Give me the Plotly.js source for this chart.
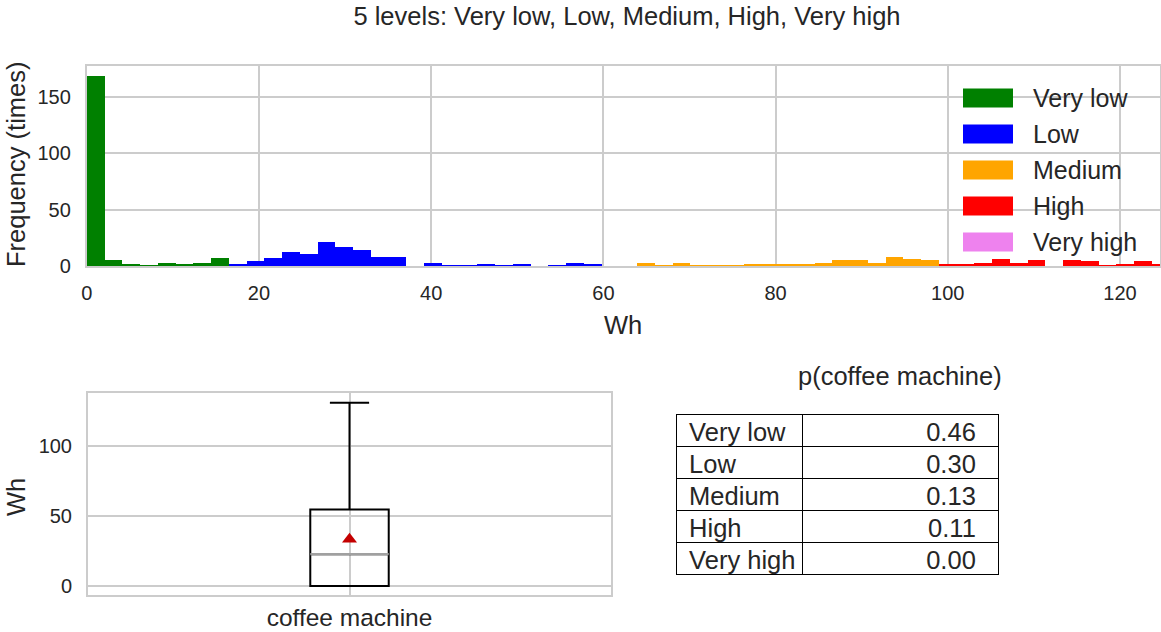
<!DOCTYPE html>
<html>
<head>
<meta charset="utf-8">
<script src="https://cdn.plot.ly/plotly-3.0.1.min.js"></script>
<style>html,body{margin:0;padding:0;background:#fff;}#chart{width:1161px;height:632px;}</style>
</head>
<body>
<div id="chart"></div>
<script>
// ---------------- data ----------------
const levels = ['Very low', 'Low', 'Medium', 'High', 'Very high'];
const binWidth = 2.062;                 // Wh per histogram bin
const levelStartBin = [0, 8, 31, 48, 61];
const veryLowCounts = [169, 5, 2, 1, 3, 2, 3, 7];
const lowCounts = [2, 4, 7, 12, 11, 21, 17, 14, 8, 8, 0, 3, 1, 1, 2, 1, 2, 0, 1, 3, 2, 0, 0];
const mediumCounts = [3, 1, 3, 1, 1, 1, 2, 2, 2, 2, 3, 5, 5, 3, 8, 6, 5];
const highCounts = [2, 2, 3, 6, 3, 5, 0, 5, 4, 1, 2, 4, 2];
const veryHighCounts = [];
const boxCategory = ['coffee machine'];
const boxMin = [0], boxQ1 = [0], boxMedian = [22.6], boxQ3 = [54.4], boxMax = [130.5], boxMean = [33.3];
const tableLabels = ['Very low', 'Low', 'Medium', 'High', 'Very high'];
const tableProbs = ['0.46', '0.30', '0.13', '0.11', '0.00'];
const histXTicks = [0, 20, 40, 60, 80, 100, 120];
const histYTicks = [0, 50, 100, 150];
const boxYTicks = [0, 50, 100];

// ---------------- style ----------------
const levelColors = ['#008000', '#0000ff', '#ffa500', '#ff0000', '#ee82ee'];
const FONT = 'Liberation Sans, Arial, sans-serif';
const TXT = '#262626';
const GRID = '#cccccc';
const BIG = 25.5;
const W = 1161, H = 632;
const px = v => v / W;
const py = v => 1 - v / H;

const allCounts = [veryLowCounts, lowCounts, mediumCounts, highCounts, veryHighCounts];
const traces = [];
allCounts.forEach((cnts, li) => {
  const xs = cnts.map((c, i) => (levelStartBin[li] + i + 0.5) * binWidth);
  traces.push({
    type: 'bar', x: xs, y: cnts, width: binWidth, name: levels[li],
    marker: {color: levelColors[li], line: {width: 0}},
    xaxis: 'x', yaxis: 'y', showlegend: false, hoverinfo: 'x+y'
  });
});

traces.push({
  type: 'box', x: boxCategory, q1: boxQ1, median: boxMedian, q3: boxQ3,
  lowerfence: boxMin, upperfence: boxMax, boxpoints: false, width: 0.15,
  whiskerwidth: 0.5, line: {color: '#000000', width: 2}, fillcolor: 'rgba(255,255,255,0)',
  xaxis: 'x2', yaxis: 'y2', showlegend: false
});
traces.push({
  type: 'scatter', mode: 'markers', x: boxCategory, y: boxMean,
  marker: {symbol: 'triangle-up', size: 13, color: '#c40000'},
  xaxis: 'x2', yaxis: 'y2', showlegend: false
});

const pad = '\u00a0\u00a0';
const lpad = '\u2009';
const cellLabel = s => lpad + s.replace(/ /g, '\u00a0');
traces.push({
  type: 'table',
  domain: {x: [px(676), px(998)], y: [py(590), py(414)]},
  columnwidth: [126, 196],
  header: {
    values: [cellLabel(tableLabels[0]), tableProbs[0] + pad],
    align: ['left', 'right'], height: 32,
    line: {color: '#000', width: 1}, fill: {color: '#fff'},
    font: {family: FONT, size: BIG, color: TXT}
  },
  cells: {
    values: [tableLabels.slice(1).map(cellLabel), tableProbs.slice(1).map(v => v + pad)],
    align: ['left', 'right'], height: 32,
    line: {color: '#000', width: 1}, fill: {color: '#fff'},
    font: {family: FONT, size: BIG, color: TXT}
  }
});

const axisCommon = {
  showline: true, mirror: true, linecolor: GRID, linewidth: 2,
  showgrid: true, gridcolor: GRID, gridwidth: 2, zeroline: false,
  ticks: 'outside', tickcolor: 'rgba(0,0,0,0)',
  tickfont: {family: FONT, size: 20, color: TXT}, fixedrange: true
};

const shapes = [];
const annotations = [];
levels.forEach((lv, i) => {
  const c = 98 + 36 * i;
  shapes.push({type: 'rect', xref: 'paper', yref: 'paper', x0: px(963), x1: px(1013),
    y0: py(c + 9.5), y1: py(c - 9.5), fillcolor: levelColors[i], line: {width: 0}, layer: 'above'});
  annotations.push({xref: 'paper', yref: 'paper', x: px(1031), y: py(c), xanchor: 'left', yanchor: 'middle',
    text: lv, showarrow: false, font: {family: FONT, size: 25, color: TXT}});
});
shapes.push({type: 'line', xref: 'x2', yref: 'y2', x0: -0.075, x1: 0.075,
  y0: boxMedian[0], y1: boxMedian[0], line: {color: '#a0a0a0', width: 2.2}, layer: 'above'});

annotations.push({xref: 'paper', yref: 'paper', x: px(16), y: py(165), text: 'Frequency (times)', textangle: -90,
  showarrow: false, xanchor: 'center', yanchor: 'middle', font: {family: FONT, size: BIG, color: TXT}});
annotations.push({xref: 'paper', yref: 'paper', x: px(623), y: py(325), text: 'Wh',
  showarrow: false, xanchor: 'center', yanchor: 'middle', font: {family: FONT, size: BIG, color: TXT}});
annotations.push({xref: 'paper', yref: 'paper', x: px(16), y: py(497), text: 'Wh', textangle: -90,
  showarrow: false, xanchor: 'center', yanchor: 'middle', font: {family: FONT, size: BIG, color: TXT}});
annotations.push({xref: 'paper', yref: 'paper', x: px(900), y: py(376), text: 'p(coffee machine)',
  showarrow: false, xanchor: 'center', yanchor: 'middle', font: {family: FONT, size: BIG, color: TXT}});

const layout = {
  width: W, height: H, margin: {l: 0, r: 0, t: 0, b: 0},
  paper_bgcolor: '#fff', plot_bgcolor: '#fff',
  title: {text: '5 levels: Very low, Low, Medium, High, Very high', x: px(627), xanchor: 'center',
    y: py(16), yanchor: 'middle', font: {family: FONT, size: BIG, color: TXT}},
  barmode: 'overlay', bargap: 0,
  xaxis: Object.assign({}, axisCommon, {domain: [px(86.8), px(1160)], range: [0, 124.65],
    tickvals: histXTicks, ticklen: 8, anchor: 'y'}),
  yaxis: Object.assign({}, axisCommon, {domain: [py(266), py(66)], range: [0, 177.5],
    tickvals: histYTicks, ticklen: 10, anchor: 'x'}),
  xaxis2: Object.assign({}, axisCommon, {domain: [px(88), px(611)], range: [-0.5, 0.5],
    type: 'category', ticklen: 0, anchor: 'y2', tickfont: {family: FONT, size: BIG - 1, color: TXT}}),
  yaxis2: Object.assign({}, axisCommon, {domain: [py(595), py(393)], range: [-6.5, 137.5],
    tickvals: boxYTicks, ticklen: 10, anchor: 'x2'}),
  shapes: shapes, annotations: annotations, showlegend: false
};

Plotly.newPlot('chart', traces, layout, {displayModeBar: false, staticPlot: true});
</script>
</body>
</html>
